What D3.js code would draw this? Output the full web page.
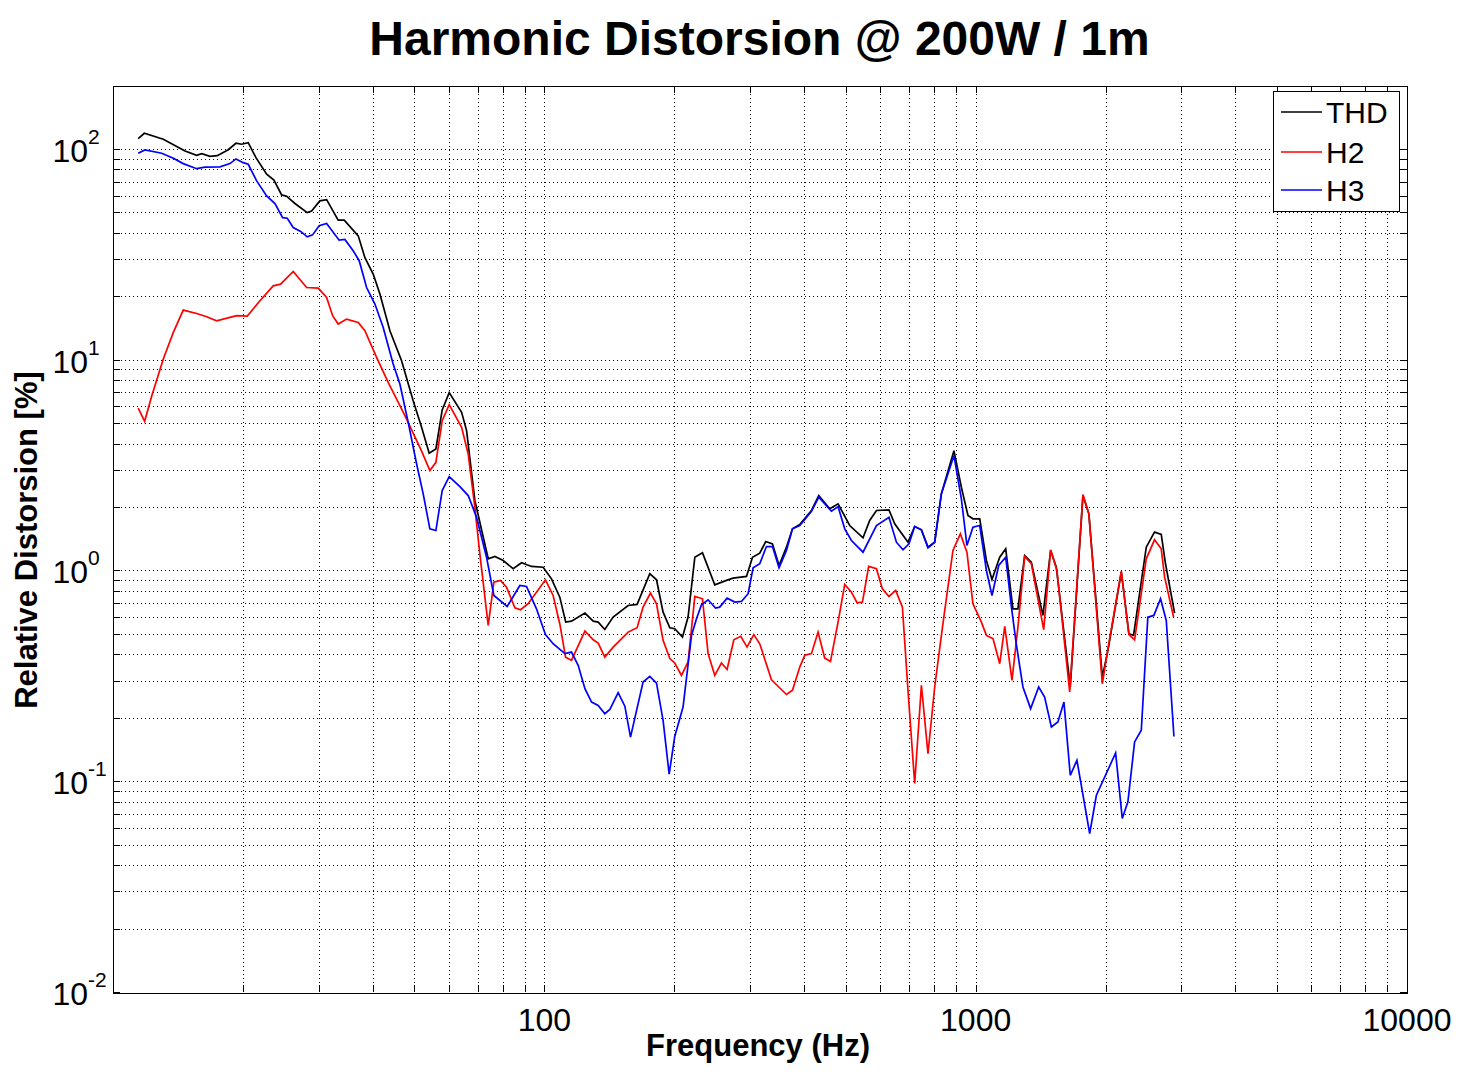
<!DOCTYPE html>
<html><head><meta charset="utf-8">
<script src="https://cdn.jsdelivr.net/npm/d3@7"></script>
<style>
body{margin:0;background:#fff}
svg{display:block}
text{font-family:"Liberation Sans",Arial,sans-serif;fill:#000}
</style>
</head><body>
<svg id="chart" width="1467" height="1083"></svg>
<script>
// ---------------- data ----------------
const thdFreq = [
  11.44, 11.82, 13.08, 14.69, 15.63, 16.06, 16.78, 17.45, 18.50, 19.28,
  19.87, 20.58, 21.45, 22.71, 23.61, 24.60, 25.26, 26.41, 28.20, 28.87,
  30.17, 31.28, 33.27, 34.36, 37.03, 38.37, 40.11, 41.57, 43.85, 46.67,
  49.65, 51.93, 54.08, 56.05, 57.97, 60.18, 64.30, 66.03, 69.01, 74.11,
  76.80, 80.27, 84.66, 88.55, 93.39, 99.36, 103.9, 108.6, 112.1, 115.6,
  124.2, 129.8, 133.3, 138.1, 144.4, 156.4, 164.1, 175.6, 182.0, 188.5,
  195.4, 200.6, 209.1, 215.4, 223.3, 232.6, 248.4, 264.4, 273.9, 294.2,
  303.8, 315.8, 326.1, 338.0, 350.1, 364.2, 376.1, 391.0, 416.2, 432.7,
  458.9, 479.7, 510.5, 548.1, 568.0, 588.8, 629.5, 649.1, 696.8, 722.1,
  748.5, 775.3, 803.5, 832.6, 890.5, 926.5, 959.7, 985.6, 1022, 1059,
  1091, 1137, 1174, 1220, 1253, 1299, 1346, 1432, 1492, 1538,
  1637, 1657, 1773, 1830, 1966, 2026, 2176, 2266, 2323, 2486,
  2598, 2693, 2755, 2892
];
const thdValues = [
  111.9, 118.7, 111.2, 97.8, 93.3, 95.0, 92.3, 92.9, 99.2, 106.4,
  105.3, 107.1, 90.9, 75.9, 71.1, 60.5, 59.7, 55.1, 49.9, 50.8,
  56.7, 57.5, 45.9, 45.9, 38.7, 30.5, 25.5, 20.5, 13.72, 9.89,
  6.39, 4.78, 3.60, 3.77, 5.78, 6.98, 5.63, 4.61, 2.15, 1.136,
  1.165, 1.115, 1.019, 1.088, 1.045, 1.036, 0.913, 0.747, 0.569, 0.575,
  0.628, 0.575, 0.569, 0.525, 0.601, 0.682, 0.690, 0.965, 0.903, 0.634,
  0.535, 0.529, 0.483, 0.601, 1.156, 1.213, 0.855, 0.897, 0.919, 0.937,
  1.156, 1.208, 1.372, 1.338, 1.056, 1.290, 1.576, 1.652, 1.925, 2.267,
  1.961, 2.071, 1.634, 1.429, 1.726, 1.925, 1.940, 1.665, 1.362, 1.616,
  1.559, 1.290, 1.362, 2.309, 3.704, 2.482, 1.823, 1.758, 1.758, 1.115,
  0.907, 1.156, 1.267, 0.658, 0.658, 1.178, 1.095, 0.612, 1.244, 1.037,
  0.348, 0.280, 2.267, 1.857, 0.312, 0.418, 0.982, 0.501, 0.492, 1.290,
  1.520, 1.483, 1.076, 0.628
];

const h2Freq = [
  11.44, 11.84, 12.30, 13.08, 13.80, 14.55, 15.63, 16.49, 17.39, 18.67,
  19.35, 20.48, 21.91, 23.52, 24.46, 26.17, 28.11, 29.91, 31.28, 32.30,
  33.27, 34.80, 37.03, 38.37, 40.84, 43.45, 46.25, 47.51, 51.93, 54.28,
  56.05, 57.97, 60.18, 64.30, 66.60, 69.01, 70.87, 74.11, 76.38, 79.13,
  81.71, 85.43, 88.08, 91.71, 100.6, 104.8, 108.6, 112.0, 115.6, 124.2,
  129.8, 133.3, 138.1, 144.4, 156.4, 164.1, 169.4, 176.2, 182.0, 188.5,
  195.4, 200.6, 207.9, 215.4, 223.3, 232.6, 239.7, 248.4, 257.4, 265.3,
  275.0, 285.4, 295.1, 305.9, 315.8, 336.2, 364.2, 376.1, 391.0, 401.6,
  416.2, 431.1, 446.7, 460.7, 479.7, 497.1, 515.2, 530.9, 546.4, 564.9,
  588.8, 607.6, 629.5, 652.6, 676.3, 696.8, 722.1, 748.5, 775.3, 803.5,
  839.7, 885.8, 921.4, 954.4, 985.6, 1031, 1059, 1097, 1137, 1168,
  1214, 1253, 1299, 1346, 1438, 1492, 1543, 1652, 1773, 1830,
  1966, 2026, 2176, 2266, 2336, 2486, 2598, 2693, 2742, 2877
];
const h2Values = [
  5.90, 5.10, 6.75, 10.08, 13.47, 17.20, 16.57, 15.99, 15.30, 15.87,
  16.17, 16.11, 19.04, 22.41, 22.84, 26.22, 22.00, 21.86, 19.74, 16.17,
  14.76, 15.59, 15.02, 13.72, 10.25, 7.80, 6.05, 5.43, 3.68, 2.98,
  3.26, 5.14, 6.12, 4.78, 3.57, 1.995, 1.200, 0.549, 0.880, 0.897,
  0.834, 0.665, 0.651, 0.695, 0.903, 0.761, 0.559, 0.388, 0.375, 0.516,
  0.469, 0.452, 0.388, 0.433, 0.510, 0.535, 0.670, 0.781, 0.695, 0.466,
  0.382, 0.364, 0.318, 0.368, 0.753, 0.734, 0.403, 0.318, 0.364, 0.339,
  0.469, 0.487, 0.433, 0.496, 0.449, 0.303, 0.258, 0.270, 0.348, 0.396,
  0.403, 0.510, 0.384, 0.370, 0.569, 0.858, 0.789, 0.703, 0.708, 1.045,
  1.019, 0.819, 0.753, 0.804, 0.670, 0.270, 0.0975, 0.285, 0.135, 0.280,
  0.559, 1.244, 1.493, 1.221, 0.695, 0.569, 0.492, 0.475, 0.361, 0.543,
  0.301, 0.538, 1.165, 1.076, 0.524, 1.253, 1.000, 0.265, 2.291, 1.857,
  0.290, 0.425, 0.992, 0.497, 0.469, 1.136, 1.398, 1.267, 0.929, 0.601
];

const h3Freq = [
  11.44, 11.86, 12.97, 13.80, 14.55, 15.63, 16.34, 17.70, 18.67, 19.28,
  20.04, 20.58, 21.53, 22.71, 23.74, 24.73, 25.35, 26.17, 27.23, 28.20,
  29.02, 30.06, 31.28, 33.44, 34.48, 36.04, 37.22, 38.72, 40.48, 42.31,
  44.62, 46.25, 48.35, 50.57, 52.38, 54.28, 56.05, 57.97, 60.18, 63.72,
  66.60, 69.65, 73.45, 76.38, 82.00, 87.75, 90.92, 95.89, 100.6, 104.8,
  111.6, 115.6, 119.8, 124.2, 128.7, 133.3, 138.1, 141.9, 148.3, 153.7,
  158.4, 169.4, 175.6, 182.0, 188.5, 194.7, 200.6, 209.7, 219.4, 225.3,
  231.4, 239.7, 249.4, 255.0, 265.3, 276.5, 286.4, 296.8, 304.8, 315.8,
  327.3, 338.0, 350.1, 364.2, 376.1, 391.0, 416.2, 432.7, 463.1, 479.7,
  497.1, 515.2, 548.1, 588.8, 629.5, 655.0, 678.5, 700.5, 722.1, 748.5,
  775.3, 803.5, 832.6, 890.5, 926.5, 954.5, 985.6, 1022, 1059, 1091,
  1131, 1174, 1209, 1242, 1287, 1341, 1400, 1445, 1498, 1551,
  1602, 1657, 1717, 1838, 1905, 2111, 2187, 2254, 2336, 2421,
  2507, 2589, 2683, 2766, 2882
];
const h3Values = [
  95.4, 98.9, 95.4, 90.3, 85.2, 80.6, 81.9, 82.2, 85.2, 89.7,
  86.1, 84.6, 70.5, 59.9, 55.1, 47.2, 46.9, 42.4, 40.6, 38.3,
  39.1, 43.2, 44.3, 36.9, 37.2, 32.9, 29.5, 22.0, 18.37, 14.22,
  9.54, 7.67, 5.04, 3.20, 2.309, 1.576, 1.547, 2.393, 2.789, 2.500,
  2.267, 1.789, 1.156, 0.761, 0.675, 0.849, 0.840, 0.658, 0.497, 0.449,
  0.403, 0.410, 0.355, 0.275, 0.2375, 0.229, 0.209, 0.219, 0.263, 0.227,
  0.162, 0.2955, 0.3145, 0.292, 0.1946, 0.108, 0.163, 0.225, 0.492, 0.590,
  0.688, 0.726, 0.663, 0.670, 0.739, 0.708, 0.713, 0.776, 1.030, 1.076,
  1.299, 1.299, 1.030, 1.244, 1.576, 1.634, 1.910, 2.225, 1.910, 2.010,
  1.576, 1.387, 1.221, 1.634, 1.789, 1.362, 1.253, 1.338, 1.616, 1.559,
  1.282, 1.362, 2.309, 3.508, 2.187, 1.314, 1.604, 1.634, 1.000, 0.761,
  1.056, 1.156, 0.682, 0.449, 0.280, 0.221, 0.280, 0.251, 0.181, 0.191,
  0.2375, 0.1067, 0.1257, 0.0565, 0.0858, 0.1362, 0.0666, 0.0798, 0.1536, 0.1745,
  0.601, 0.612, 0.734, 0.579, 0.163
];

const seriesNames = ["THD", "H2", "H3"];
const seriesColors = ["#000000", "#ff0000", "#0000ff"];
const xLabelValues = [100, 1000, 10000];
const xLabelTexts = ["100", "1000", "10000"];
const yLabelValues = [0.01, 0.1, 1, 10, 100];
const yLabelExponents = ["-2", "-1", "0", "1", "2"];
const titleText = "Harmonic Distorsion @ 200W / 1m";
const xAxisTitle = "Frequency (Hz)";
const yAxisTitle = "Relative Distorsion [%]";

// ---------------- layout ----------------
const L = 113, R = 1407, T = 85.5, B = 992;
const svg = d3.select("#chart");
const x = d3.scaleLog().domain([10, 10000]).range([L, R]);
const y = d3.scaleLog().domain([0.01, 200]).range([B, T]);

const xGrid = [];
[10, 100, 1000].forEach(d => { for (let k = 1; k <= 9; k++) xGrid.push(k * d); });
xGrid.push(10000);
const yGrid = [];
[0.01, 0.1, 1, 10, 100].forEach(d => { for (let k = 1; k <= 9; k++) { const v = +(k * d).toPrecision(3); if (v <= 200) yGrid.push(v); } });

const px = v => Math.round(v) + 0.5;

// grid
const grid = svg.append("g").attr("stroke", "#000").attr("stroke-width", 1)
  .attr("stroke-dasharray", "1,3").attr("shape-rendering", "crispEdges");
grid.selectAll("line.gx").data(xGrid.filter(v => v > 10 && v < 10000)).join("line")
  .attr("class", "gx").attr("x1", d => px(x(d))).attr("x2", d => px(x(d)))
  .attr("y1", T).attr("y2", B);
grid.selectAll("line.gy").data(yGrid.filter(v => v > 0.01 && v < 200)).join("line")
  .attr("class", "gy").attr("y1", d => px(y(d))).attr("y2", d => px(y(d)))
  .attr("x1", L).attr("x2", R);

// ticks on four sides via d3 axes (inward)
const tk = 7;
function styleAxis(g) {
  g.select(".domain").remove();
  g.selectAll(".tick line").attr("stroke", "#000").attr("shape-rendering", "crispEdges");
  g.selectAll(".tick text").remove();
}
svg.append("g").attr("transform", `translate(0,${B})`)
  .call(d3.axisBottom(x).tickValues(xGrid).tickSize(-tk).tickSizeOuter(0).tickFormat(() => "")).call(styleAxis);
svg.append("g").attr("transform", `translate(0,${T})`)
  .call(d3.axisTop(x).tickValues(xGrid).tickSize(-tk).tickSizeOuter(0).tickFormat(() => "")).call(styleAxis);
svg.append("g").attr("transform", `translate(${L},0)`)
  .call(d3.axisLeft(y).tickValues(yGrid).tickSize(-tk).tickSizeOuter(0).tickFormat(() => "")).call(styleAxis);
svg.append("g").attr("transform", `translate(${R},0)`)
  .call(d3.axisRight(y).tickValues(yGrid).tickSize(-tk).tickSizeOuter(0).tickFormat(() => "")).call(styleAxis);

// frame
svg.append("rect").attr("x", L + 0.5).attr("y", Math.round(T) + 0.5)
  .attr("width", Math.round(R - L)).attr("height", Math.round(B - T))
  .attr("fill", "none").attr("stroke", "#000").attr("stroke-width", 1).attr("shape-rendering", "crispEdges");

// series
const series = [
  { name: seriesNames[0], color: seriesColors[0], data: d3.zip(thdFreq, thdValues) },
  { name: seriesNames[1], color: seriesColors[1], data: d3.zip(h2Freq, h2Values) },
  { name: seriesNames[2], color: seriesColors[2], data: d3.zip(h3Freq, h3Values) }
];
const line = d3.line().x(d => x(d[0])).y(d => y(d[1]));
svg.append("defs").append("clipPath").attr("id", "clip")
  .append("rect").attr("x", L).attr("y", T).attr("width", R - L).attr("height", B - T);
svg.append("g").attr("clip-path", "url(#clip)").selectAll("path").data(series).join("path")
  .attr("d", d => line(d.data)).attr("fill", "none").attr("stroke", d => d.color)
  .attr("stroke-width", 1.7).attr("stroke-linejoin", "miter");

// x tick labels
svg.append("g").selectAll("text").data(xLabelValues).join("text")
  .attr("x", d => x(d)).attr("y", 1031).attr("text-anchor", "middle")
  .attr("font-size", 32).text((d, i) => xLabelTexts[i]);

// y tick labels (10^n)
const yl = svg.append("g").selectAll("g").data(yLabelValues).join("g");
yl.append("text").attr("x", 88).attr("y", d => y(d) + 13).attr("text-anchor", "end")
  .attr("font-size", 32).text("10");
yl.append("text").attr("x", 88).attr("y", d => y(d) - 5).attr("text-anchor", "start")
  .attr("font-size", 21).text((d, i) => yLabelExponents[i]);

// titles
svg.append("text").attr("x", 759.5).attr("y", 55).attr("text-anchor", "middle")
  .attr("font-size", 48).attr("font-weight", "bold").text(titleText);
svg.append("text").attr("x", 758).attr("y", 1056).attr("text-anchor", "middle")
  .attr("font-size", 31).attr("font-weight", "bold").text(xAxisTitle);
svg.append("text").attr("transform", "translate(37,540) rotate(-90)").attr("text-anchor", "middle")
  .attr("font-size", 31).attr("font-weight", "bold").text(yAxisTitle);

// legend
const lg = svg.append("g");
lg.append("rect").attr("x", 1273.5).attr("y", 91.5).attr("width", 126).attr("height", 120)
  .attr("fill", "#fff").attr("stroke", "#000").attr("stroke-width", 1);
const legendY = [112, 152, 190];
const items = lg.selectAll("g").data(series).join("g");
items.append("line").attr("x1", 1281).attr("x2", 1322)
  .attr("y1", (d, i) => legendY[i]).attr("y2", (d, i) => legendY[i])
  .attr("stroke", d => d.color).attr("stroke-width", 1.7);
items.append("text").attr("x", 1326).attr("y", (d, i) => legendY[i] + 11)
  .attr("font-size", 30).text(d => d.name);
</script>
</body></html>
